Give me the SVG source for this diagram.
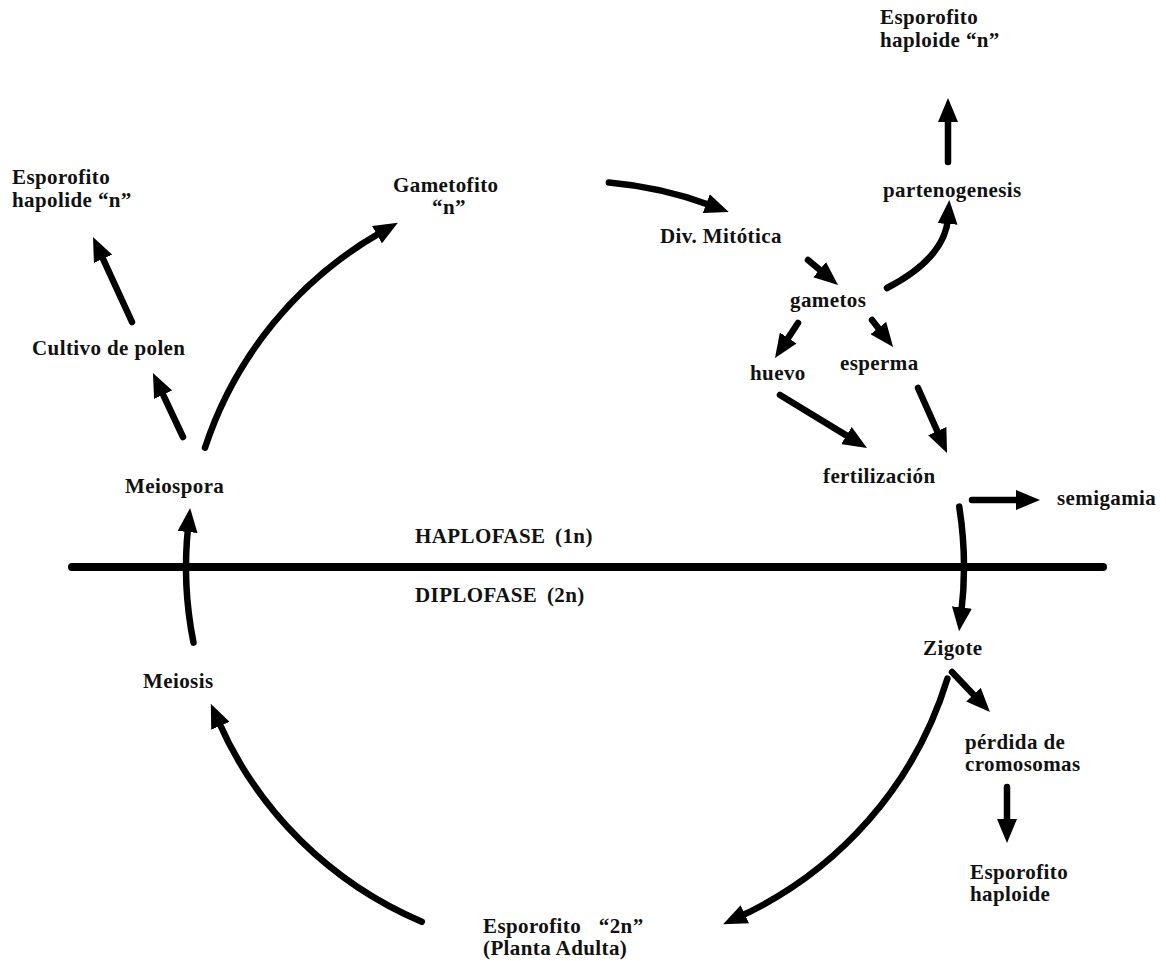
<svg xmlns="http://www.w3.org/2000/svg" width="1166" height="961" viewBox="0 0 1166 961">
<style>
text{font-family:"Liberation Serif","Times New Roman",serif;font-weight:bold;font-size:21px;letter-spacing:0.4px;fill:#111}
.c{fill:none;stroke:#000;stroke-width:6.5;stroke-linecap:round}
.a{marker-end:url(#ah)}
</style>
<defs>
<marker id="ah" viewBox="0 -10 24 20" refX="6" refY="0" markerWidth="24" markerHeight="20" markerUnits="userSpaceOnUse" orient="auto">
<path d="M0,-10 L24,0 L0,10 Z" fill="#000"/>
</marker>
</defs>
<rect width="1166" height="961" fill="#fff"/>

<g id="connectors">
<line x1="72" y1="567" x2="1103" y2="567" stroke="#000" stroke-width="8" stroke-linecap="round"/>
<path class="c a" d="M205,447.7 A389,386 0 0 1 382.2,231.7"/>
<path class="c a" d="M608.9,182.5 A389,386 0 0 1 711.9,205.7"/>
<path class="c a" d="M959.2,506.6 A389,386 0 0 1 961.2,613.4"/>
<path class="c a" d="M947.4,678.6 A389,386 0 0 1 739.4,916.8"/>
<path class="c a" d="M421.8,921.8 A389,386 0 0 1 218,720.3"/>
<path class="c a" d="M193.5,642.6 A389,386 0 0 1 188.2,526"/>
<path class="c a" d="M183,437 L160.6,389.3"/>
<path class="c a" d="M132,322 L100.5,253.4"/>
<path class="c a" d="M808,260 L824.2,273.5"/>
<path class="c a" d="M798,323 L784.9,343"/>
<path class="c a" d="M872,320 L882,332.8"/>
<path class="c a" d="M780,395 L851.6,438.6"/>
<path class="c a" d="M918,388 L939.7,436.6"/>
<path class="c a" d="M887,288 Q945,258 948,218"/>
<path class="c a" d="M948,162 L948,116"/>
<path class="c a" d="M972,500 L1022,500"/>
<path class="c a" d="M952,672 L977.6,699"/>
<path class="c a" d="M1007,787 L1007,825"/>
</g>

<g id="esporofito-hapolide"><text x="12" y="184">Esporofito</text><text x="12" y="207">hapolide “n”</text></g>
<g id="gametofito"><text x="393" y="192">Gametofito</text><text x="449" y="214" text-anchor="middle">“n”</text></g>
<g id="esporofito-haploide-top"><text x="880" y="24">Esporofito</text><text x="880" y="47">haploide “n”</text></g>
<g id="partenogenesis"><text x="883" y="197">partenogenesis</text></g>
<g id="div-mitotica"><text x="660" y="243">Div. Mitótica</text></g>
<g id="gametos"><text x="790" y="307">gametos</text></g>
<g id="huevo"><text x="750" y="380">huevo</text></g>
<g id="esperma"><text x="840" y="370">esperma</text></g>
<g id="fertilizacion"><text x="823" y="483">fertilización</text></g>
<g id="semigamia"><text x="1057" y="505">semigamia</text></g>
<g id="haplofase"><text x="415" y="543" word-spacing="4">HAPLOFASE (1n)</text></g>
<g id="diplofase"><text x="415" y="602" word-spacing="4">DIPLOFASE (2n)</text></g>
<g id="zigote"><text x="923" y="655">Zigote</text></g>
<g id="perdida"><text x="965" y="749">pérdida de</text><text x="965" y="771">cromosomas</text></g>
<g id="esporofito-haploide-bottom"><text x="970" y="879">Esporofito</text><text x="970" y="901">haploide</text></g>
<g id="meiosis"><text x="143" y="688">Meiosis</text></g>
<g id="meiospora"><text x="125" y="493">Meiospora</text></g>
<g id="cultivo"><text x="32" y="355">Cultivo de polen</text></g>
<g id="esporofito-2n"><text x="483" y="933" word-spacing="12">Esporofito “2n”</text><text x="483" y="955">(Planta Adulta)</text></g>
</svg>
